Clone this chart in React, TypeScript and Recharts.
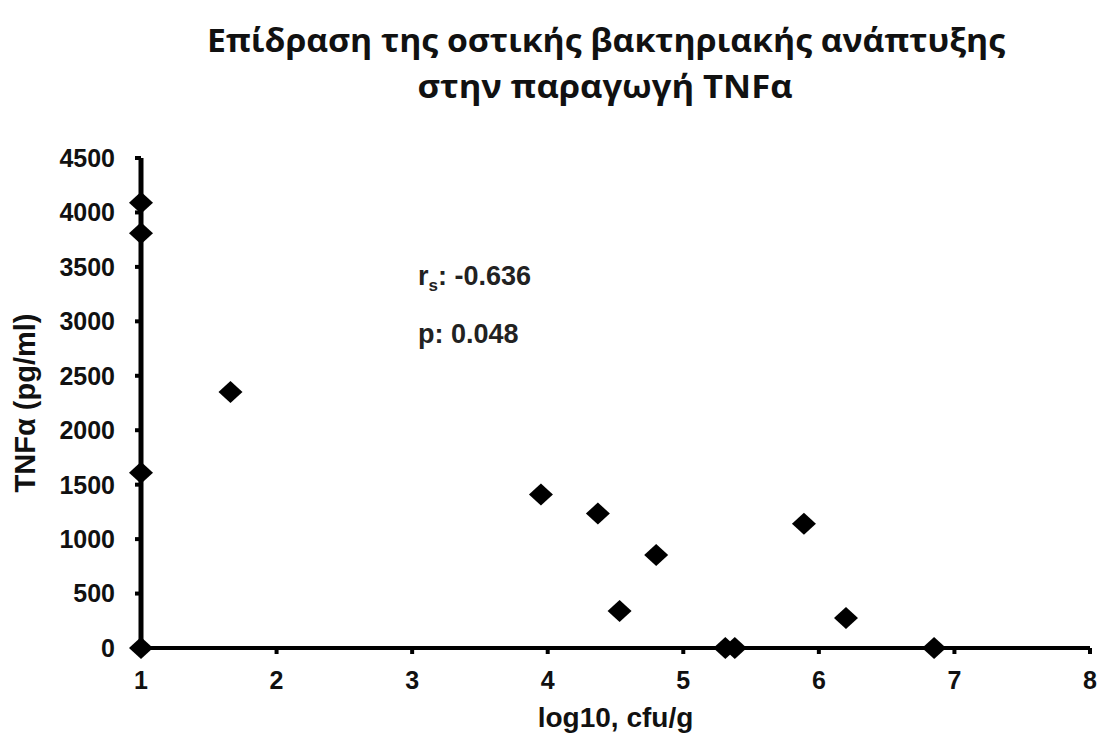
import React from "react";
import { ScatterChart, Scatter, XAxis, YAxis, Label } from "recharts";

const xValues = [1, 1, 1, 1, 1.66, 3.95, 4.37, 4.53, 4.8, 5.31, 5.38, 5.89, 6.2, 6.85];
const yValues = [4090, 3810, 1610, 0, 2350, 1410, 1235, 340, 855, 0, 0, 1140, 275, 0];
const xTicks = [1, 2, 3, 4, 5, 6, 7, 8];
const yTicks = [0, 500, 1000, 1500, 2000, 2500, 3000, 3500, 4000, 4500];
const titleLines = ["Επίδραση της οστικής βακτηριακής ανάπτυξης", "στην παραγωγή TNFα"];
const xLabel = "log10, cfu/g";
const yLabel = "TNFα (pg/ml)";
const rsText = ": -0.636";
const pText = "p: 0.048";

const data = xValues.map((x, i) => ({ x, y: yValues[i] }));

const Diamond = (props: any) => {
  const { cx, cy } = props;
  if (cx == null || cy == null) return null;
  const w = 12;
  const h = 11;
  return <path d={`M${cx},${cy - h} L${cx + w},${cy} L${cx},${cy + h} L${cx - w},${cy} Z`} fill="#000" />;
};

const font = "'Liberation Sans', Arial, sans-serif";

export default function App() {
  return (
    <div style={{ position: "absolute", left: 0, top: 0, width: 1098, height: 734, background: "#fff" }}>
      <ScatterChart width={1098} height={734} margin={{ top: 158, right: 8, bottom: 0, left: 0 }}>
        <XAxis
          type="number"
          dataKey="x"
          domain={[1, 8]}
          ticks={xTicks}
          height={86}
          axisLine={{ stroke: "#000", strokeWidth: 4 }}
          tickLine={{ stroke: "#000", strokeWidth: 4 }}
          tickSize={6}
          tickMargin={17}
          tick={{ fill: "#111", fontSize: 25, fontWeight: 700, fontFamily: font }}
        >
          <Label
            value={xLabel}
            position="insideBottom"
            offset={7}
            style={{ fill: "#111", fontSize: 28, fontWeight: 700, fontFamily: font }}
          />
        </XAxis>
        <YAxis
          type="number"
          dataKey="y"
          domain={[0, 4500]}
          ticks={yTicks}
          width={141}
          axisLine={{ stroke: "#000", strokeWidth: 5 }}
          tickLine={{ stroke: "#000", strokeWidth: 4 }}
          tickSize={6}
          tickMargin={20}
          tick={{ fill: "#111", fontSize: 25, fontWeight: 700, fontFamily: font }}
        >
          <Label
            value={yLabel}
            angle={-90}
            position="insideLeft"
            offset={25}
            style={{ fill: "#111", fontSize: 29, fontWeight: 700, fontFamily: font, textAnchor: "middle" }}
          />
        </YAxis>
        <Scatter data={data} shape={<Diamond />} isAnimationActive={false} />
      </ScatterChart>
      <svg width={1098} height={734} style={{ position: "absolute", left: 0, top: 0, pointerEvents: "none" }}>
        <text
          x={606}
          y={52}
          textAnchor="middle"
          textLength={798}
          lengthAdjust="spacingAndGlyphs"
          style={{ fontFamily: "'Open Sans', sans-serif", fontWeight: 700, fontSize: 33, fill: "#111" }}
        >
          {titleLines[0]}
        </text>
        <text
          x={605}
          y={98}
          textAnchor="middle"
          textLength={375}
          lengthAdjust="spacingAndGlyphs"
          style={{ fontFamily: "'Open Sans', sans-serif", fontWeight: 700, fontSize: 33, fill: "#111" }}
        >
          {titleLines[1]}
        </text>
        <text x={418} y={285} style={{ fontFamily: font, fontWeight: 700, fontSize: 27, fill: "#222" }}>
          r<tspan fontSize={17} dy={6}>s</tspan>
          <tspan dy={-6}>{rsText}</tspan>
        </text>
        <text x={418} y={343} style={{ fontFamily: font, fontWeight: 700, fontSize: 27, fill: "#222" }}>
          {pText}
        </text>
      </svg>
    </div>
  );
}
